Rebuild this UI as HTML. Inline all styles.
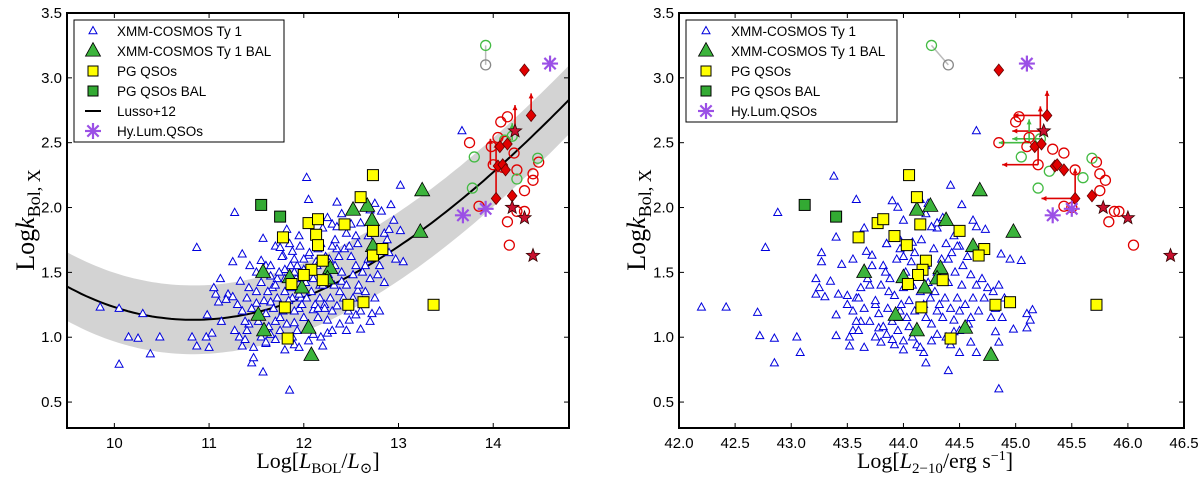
<!DOCTYPE html>
<html><head><meta charset="utf-8">
<style>
html,body{margin:0;padding:0;background:#fff;}
svg{display:block;}
text{font-family:"Liberation Sans","DejaVu Sans",sans-serif;}
.serif{font-family:"Liberation Serif","DejaVu Serif",serif;}
</style></head>
<body>
<svg id="chart" width="1200" height="478" viewBox="0 0 1200 478" xmlns="http://www.w3.org/2000/svg">
<g id="left"></g>
<g id="right"></g>
</svg>
<script>
// ---------- DATA ----------
const leftXTicks = [10, 11, 12, 13, 14];
const rightXTicks = [42.0, 42.5, 43.0, 43.5, 44.0, 44.5, 45.0, 45.5, 46.0, 46.5];
const yTicks = [0.5, 1.0, 1.5, 2.0, 2.5, 3.0, 3.5];

const leftBlueX = [9.85,10.05,10.3,10.15,10.25,10.48,10.05,10.38,10.87,10.82,10.87,10.97,11.0,11.03,10.98,11.07,11.05,11.12,11.1,11.13,11.2,11.18,11.25,11.27,11.25,11.33,11.35,11.27,11.32,11.35,11.38,11.43,11.45,11.47,11.42,11.5,11.5,11.55,11.57,11.6,11.57,11.47,11.6,11.65,11.67,11.65,11.7,11.72,11.75,11.78,11.8,11.82,11.85,11.85,11.88,11.88,11.9,11.9,11.93,11.95,11.97,12.0,12.03,12.05,12.05,12.1,12.13,12.15,12.17,12.2,12.22,12.25,12.27,12.3,12.33,12.35,12.35,12.38,12.4,12.45,12.45,12.48,12.5,12.52,12.55,12.57,12.6,12.62,12.65,12.68,12.7,12.72,12.75,12.78,12.8,12.82,12.85,12.88,12.9,12.92,12.95,12.97,13.02,13.02,13.05,13.67,
11.4,11.45,11.5,11.52,11.55,11.58,11.6,11.62,11.63,11.65,11.68,11.7,11.7,11.72,11.74,11.75,11.77,11.78,11.8,11.8,11.82,11.84,11.86,11.87,11.9,11.9,11.92,11.93,11.95,11.96,11.98,12.0,12.0,12.02,12.03,12.05,12.06,12.08,12.1,12.1,12.12,12.14,12.15,12.17,12.18,12.2,12.22,12.23,12.25,12.26,12.28,12.3,12.3,12.32,12.33,12.35,12.37,12.38,12.4,12.42,12.43,12.45,12.47,12.5,12.52,12.55,12.57,12.58,12.6,12.62,12.65,12.68,12.7,12.75,12.8,12.85,12.9,11.35,11.38,11.4,11.42,11.3,11.55,11.6,11.7,11.8,11.95,12.05,12.18,12.3,12.2,12.25,12.4,12.1,11.95,11.85,12.55,12.6,12.7,12.48,12.35,11.88,11.75,11.65,11.9,12.0,12.15];
const leftBlueY = [1.23,1.22,1.18,1.0,0.99,1.0,0.79,0.87,1.69,1.0,0.93,1.0,0.92,1.03,1.17,1.33,1.38,1.45,1.27,1.12,1.33,1.29,1.31,1.96,1.58,1.43,1.64,1.05,1.0,0.93,0.98,1.55,0.8,0.84,1.1,1.26,1.5,1.59,1.76,1.55,0.73,0.92,0.95,1.47,1.38,1.27,1.7,1.45,1.69,1.63,1.52,1.83,0.59,1.47,1.66,1.3,0.94,1.11,1.55,1.22,1.3,1.38,2.23,2.06,1.63,1.21,1.58,1.68,1.4,0.93,1.25,1.03,1.6,1.87,1.75,2.04,1.68,1.35,1.43,1.05,1.8,1.13,1.87,1.48,1.17,1.36,1.06,1.28,1.55,1.78,1.12,1.18,2.03,1.48,1.2,1.97,1.8,1.75,1.83,2.02,1.9,1.6,2.17,1.82,1.58,2.59,
1.3,1.22,1.35,1.12,1.42,1.28,1.18,1.35,1.08,1.55,1.22,1.4,1.12,1.3,1.5,1.05,1.62,1.2,1.35,1.45,1.1,1.28,1.55,1.38,1.2,1.6,1.45,1.05,1.33,1.7,1.25,1.15,1.52,1.42,1.3,1.1,1.65,1.35,1.45,1.02,1.25,1.55,1.15,1.3,1.72,1.4,1.22,1.62,1.13,1.48,1.3,1.7,1.2,1.4,1.55,1.24,1.62,1.1,1.5,1.3,1.68,1.4,1.2,1.62,1.3,1.55,1.72,1.4,1.2,1.5,1.35,1.6,1.45,1.3,1.55,1.42,1.65,1.2,1.12,1.05,1.38,1.25,1.0,0.96,0.98,0.9,0.92,0.97,1.0,1.05,1.84,1.92,1.95,1.9,1.78,1.72,1.78,1.88,1.98,1.7,1.85,1.0,1.15,1.02,1.5,1.6,1.22];

const rightBlueX = [42.2,42.42,42.7,42.72,42.85,42.85,42.88,42.77,43.05,43.08,43.22,43.22,43.25,43.27,43.27,43.3,43.35,43.38,43.4,43.4,43.4,43.42,43.45,43.5,43.52,43.52,43.55,43.58,43.55,43.58,43.62,43.65,43.65,43.67,43.7,43.72,43.75,43.78,43.82,43.85,43.87,43.9,43.92,43.95,43.97,44.0,44.05,44.08,44.12,44.15,44.18,44.2,44.22,44.3,44.4,44.42,44.42,44.45,44.5,44.52,44.6,44.62,44.65,44.65,44.73,44.82,44.85,44.85,44.87,44.95,45.05,44.98,45.1,45.15,45.1,45.13,44.65,
43.6,43.65,43.68,43.7,43.72,43.75,43.78,43.8,43.82,43.84,43.86,43.88,43.9,43.92,43.94,43.95,43.97,43.98,44.0,44.02,44.03,44.05,44.07,44.08,44.1,44.1,44.12,44.13,44.15,44.16,44.18,44.2,44.2,44.22,44.24,44.25,44.27,44.28,44.3,44.3,44.32,44.34,44.35,44.37,44.38,44.4,44.42,44.43,44.45,44.46,44.48,44.5,44.5,44.52,44.53,44.55,44.57,44.58,44.6,44.62,44.63,44.65,44.67,44.7,44.72,44.75,44.78,44.8,44.82,44.85,44.88,44.9,43.55,43.58,43.6,43.62,43.5,43.75,43.8,43.9,44.0,44.15,44.25,44.38,44.5,44.3,44.35,44.2,44.0,43.95,43.85,44.45,44.3,44.1,44.48,44.25,44.08,43.95,43.85,44.0,44.4,44.6];
const rightBlueY = [1.23,1.23,1.19,1.01,0.99,0.8,1.96,1.69,1.0,0.88,1.45,1.33,1.38,1.65,1.58,1.31,1.43,2.24,1.77,1.17,1.01,1.33,1.56,1.32,0.93,1.0,1.05,2.06,1.6,1.3,1.12,0.92,1.84,1.66,1.4,1.63,1.25,1.07,1.55,1.72,1.35,2.05,0.94,2.0,1.2,0.97,1.08,1.73,0.94,2.06,0.88,0.8,2.03,1.2,0.74,2.17,0.94,1.04,0.88,2.02,0.96,1.9,1.85,0.88,1.83,1.04,0.6,0.96,1.64,1.6,1.59,1.06,1.18,1.21,1.07,1.13,2.59,
1.3,1.22,1.45,1.12,1.55,1.28,1.18,1.4,1.08,1.5,1.22,1.45,1.12,1.32,1.6,1.05,1.68,1.25,1.38,1.5,1.15,1.28,1.58,1.4,1.2,1.65,1.48,1.05,1.35,1.75,1.25,1.15,1.55,1.42,1.3,1.1,1.68,1.35,1.5,1.02,1.25,1.6,1.15,1.3,1.72,1.42,1.22,1.65,1.13,1.5,1.3,1.7,1.2,1.4,1.55,1.25,1.62,1.1,1.48,1.3,1.68,1.4,1.2,1.45,1.3,1.38,1.15,1.35,1.22,1.4,1.15,1.3,1.2,1.12,1.05,1.38,1.25,1.0,0.96,0.98,0.9,0.92,0.97,1.0,1.05,1.84,1.92,1.95,1.9,1.78,1.72,1.78,1.88,1.98,1.7,1.85,1.0,1.15,1.02,1.62,1.6,1.15];

const leftBalX = [11.57,11.85,11.98,11.52,11.58,12.05,12.08,12.28,12.52,12.67,12.72,12.73,13.25,13.23,12.25];
const leftBalY = [1.5,1.46,1.38,1.17,1.05,1.07,0.86,1.53,1.98,2.01,1.9,1.7,2.13,1.81,1.45];
const rightBalX = [43.65,44.0,44.19,43.93,44.12,44.55,44.78,44.33,44.38,44.12,44.24,44.62,44.68,44.98,44.3];
const rightBalY = [1.5,1.46,1.38,1.17,1.05,1.07,0.86,1.53,1.9,1.98,2.01,1.7,2.13,1.81,1.45];

const leftPgX = [12.73,12.6,12.05,12.15,12.43,12.73,11.78,12.13,12.15,12.73,12.83,12.2,12.08,12.0,11.87,12.2,11.8,12.47,12.63,11.83,13.37];
const leftPgY = [2.25,2.08,1.88,1.91,1.87,1.82,1.77,1.79,1.71,1.63,1.68,1.59,1.52,1.48,1.41,1.44,1.23,1.25,1.27,0.99,1.25];
const rightPgX = [44.05,44.12,43.77,43.82,44.15,44.5,43.6,43.92,44.03,44.72,44.67,44.2,44.17,44.13,44.04,44.35,44.16,44.82,44.95,44.42,45.72];
const rightPgY = [2.25,2.08,1.88,1.91,1.87,1.82,1.77,1.78,1.71,1.68,1.63,1.59,1.52,1.48,1.41,1.44,1.23,1.25,1.27,0.99,1.25];

const leftPgBalX = [11.55,11.75];
const leftPgBalY = [2.02,1.93];
const rightPgBalX = [43.12,43.4];
const rightPgBalY = [2.02,1.93];

const leftRedCircX = [14.15,14.08,14.05,14.13,13.75,13.98,14.22,14.0,14.1,14.25,14.42,14.42,14.33,13.85,14.25,14.33,14.15,14.17,14.48];
const leftRedCircY = [2.7,2.66,2.54,2.51,2.5,2.47,2.42,2.33,2.31,2.29,2.26,2.21,2.13,2.01,1.97,1.97,1.89,1.71,2.35];
const rightRedCircX = [45.03,45.0,45.12,44.85,45.1,45.33,45.43,45.2,45.53,45.72,45.75,45.8,45.75,45.43,45.88,45.92,45.83,46.05,45.5];
const rightRedCircY = [2.7,2.66,2.54,2.5,2.47,2.45,2.42,2.33,2.29,2.35,2.26,2.21,2.13,2.01,1.97,1.97,1.89,1.71,2.0];

const leftGreenCircX = [13.92,14.12,14.2,13.8,13.78,14.25,14.47];
const leftGreenCircY = [3.25,2.52,2.55,2.39,2.15,2.22,2.38];
const rightGreenCircX = [44.25,45.05,45.3,45.22,45.2,45.6,45.68];
const rightGreenCircY = [3.25,2.39,2.28,2.53,2.15,2.23,2.38];

const leftGrayX = [13.92]; const leftGrayY = [3.1];
const rightGrayX = [44.4]; const rightGrayY = [3.1];

const leftDiaX = [14.33,14.4,14.07,14.15,14.05,14.1,14.13,14.03,14.2];
const leftDiaY = [3.06,2.71,2.47,2.49,2.32,2.33,2.29,2.07,2.09];
const rightDiaX = [44.85,45.28,45.17,45.23,45.35,45.43,45.53,45.68,45.37];
const rightDiaY = [3.06,2.71,2.47,2.49,2.32,2.29,2.07,2.09,2.33];

const leftStarX = [14.23,14.2,14.33,14.42];
const leftStarY = [2.59,2.0,1.92,1.63];
const rightStarX = [45.25,45.78,46.0,46.38];
const rightStarY = [2.59,2.0,1.92,1.63];

const leftHyX = [13.68,13.92,14.6];
const leftHyY = [1.94,1.99,3.11];
const rightHyX = [45.33,45.5,45.1];
const rightHyY = [1.94,1.99,3.11];

// Lusso+12 polynomial coefficients (x = log L - 12)
const lussoCoef = [1.308, 0.288, 0.111, -0.007];
const lussoBand = 0.265;

// ---------- DRAW ----------
const NS = 'http://www.w3.org/2000/svg';
function mk(parent, tag, attrs){ const e=document.createElementNS(NS,tag); for(const k in attrs) e.setAttribute(k,attrs[k]); parent.appendChild(e); return e; }

const PY0 = 13, PY1 = 428, YMIN = 0.3, YMAX = 3.5;
function ys(v){ return PY1 - (v - YMIN) * (PY1 - PY0) / (YMAX - YMIN); }
function makeX(x0, x1, vmin, vmax){ return v => x0 + (v - vmin) * (x1 - x0) / (vmax - vmin); }
const lxs = makeX(67, 569, 9.5, 14.8);
const rxs = makeX(679, 1184, 42.0, 46.5);

function tri(g, x, y, s, fill, stroke, sw, name){
  const h = s*0.9;
  const p = mk(g,'polygon',{points:`${x},${y-h*0.62} ${x-s/2},${y+h*0.38} ${x+s/2},${y+h*0.38}`, fill:fill, stroke:stroke, 'stroke-width':sw});
  
  
}
function sq(g, x, y, s, fill, name){
  const r = mk(g,'rect',{x:x-s/2,y:y-s/2,width:s,height:s,fill:fill,stroke:'#000','stroke-width':1});
  
  
}
function circ(g, x, y, r, stroke, name){
  const c = mk(g,'circle',{cx:x,cy:y,r:r,fill:'none',stroke:stroke,'stroke-width':1.3});
  
  
}
function dia(g, x, y, s, name){
  const p = mk(g,'polygon',{points:`${x},${y-s} ${x+s*0.8},${y} ${x},${y+s} ${x-s*0.8},${y}`, fill:'#e00000', stroke:'#600', 'stroke-width':0.8});
  
  
}
function star(g, x, y, r, name){
  let pts=[];
  for(let i=0;i<10;i++){ const a=-Math.PI/2+i*Math.PI/5; const rr=i%2?r*0.42:r; pts.push((x+rr*Math.cos(a)).toFixed(1)+','+(y+rr*Math.sin(a)).toFixed(1)); }
  const p = mk(g,'polygon',{points:pts.join(' '), fill:'#c8102e', stroke:'#300', 'stroke-width':0.8});
  
  
}
function aster(g, x, y, r, name){
  const gg = mk(g,'g',{stroke:'#9b50e6','stroke-width':2.2});
  
  
  for(let i=0;i<4;i++){ const a=i*Math.PI/4; mk(gg,'line',{x1:x-r*Math.cos(a),y1:y-r*Math.sin(a),x2:x+r*Math.cos(a),y2:y+r*Math.sin(a)}); }
}
function arrow(g, x1, y1, x2, y2, color, name){
  const gg = mk(g,'g',{stroke:color,'stroke-width':1.6,fill:color});
  
  
  mk(gg,'line',{x1:x1,y1:y1,x2:x2,y2:y2});
  const a=Math.atan2(y2-y1,x2-x1), s=5;
  mk(gg,'polygon',{points:`${x2},${y2} ${x2-s*Math.cos(a)+s*0.5*Math.sin(a)},${y2-s*Math.sin(a)-s*0.5*Math.cos(a)} ${x2-s*Math.cos(a)-s*0.5*Math.sin(a)},${y2-s*Math.sin(a)+s*0.5*Math.cos(a)}`,stroke:'none'});
}

function axes(g, xs, x0, x1, xt, xfmt){
  // frame
  const f = mk(g,'rect',{x:x0,y:PY0,width:x1-x0,height:PY1-PY0,fill:'none',stroke:'#000','stroke-width':2});
  
  
  xt.forEach(v=>{
    const X = xs(v);
    mk(g,'line',{x1:X,y1:PY1,x2:X,y2:PY1-5,stroke:'#000','stroke-width':1});
    mk(g,'line',{x1:X,y1:PY0,x2:X,y2:PY0+5,stroke:'#000','stroke-width':1});
    const t = mk(g,'text',{x:X,y:PY1+20,'text-anchor':'middle','font-size':15});
    t.textContent = xfmt(v);
    
    
  });
  yTicks.forEach(v=>{
    const Y = ys(v);
    mk(g,'line',{x1:x0,y1:Y,x2:x0+5,y2:Y,stroke:'#000','stroke-width':1});
    mk(g,'line',{x1:x1,y1:Y,x2:x1-5,y2:Y,stroke:'#000','stroke-width':1});
    const t = mk(g,'text',{x:x0-5,y:Y+5,'text-anchor':'end','font-size':15});
    t.textContent = v.toFixed(1);
    
    
  });
}

function panel(g, xs, x0, x1, d, isLeft){
  const clip = mk(g,'clipPath',{id:'clip'+(isLeft?'L':'R')});
  mk(clip,'rect',{x:x0,y:PY0,width:x1-x0,height:PY1-PY0});
  const pg = mk(g,'g',{'clip-path':`url(#clip${isLeft?'L':'R'})`});
  if(isLeft){
    let up=[], lo=[], mid=[];
    for(let v=9.5; v<=14.81; v+=0.05){
      const t=v-12; const k=lussoCoef[0]+lussoCoef[1]*t+lussoCoef[2]*t*t+lussoCoef[3]*t*t*t;
      up.push(xs(v).toFixed(1)+','+ys(k+lussoBand).toFixed(1));
      lo.unshift(xs(v).toFixed(1)+','+ys(k-lussoBand).toFixed(1));
      mid.push(xs(v).toFixed(1)+','+ys(k).toFixed(1));
    }
    const band = mk(pg,'polygon',{points:up.concat(lo).join(' '),fill:'#d3d3d3',stroke:'none'});
    
    
    const line = mk(pg,'polyline',{points:mid.join(' '),fill:'none',stroke:'#000','stroke-width':2});
    
    
  }
  d.blueX.forEach((v,i)=>tri(pg,xs(v),ys(d.blueY[i]),8,'#fff','#0000dd',1,'xmm-ty1-point'));
  d.balX.forEach((v,i)=>tri(pg,xs(v),ys(d.balY[i]),15,'#3cb43c','#000',0.8,'xmm-bal-point'));
  d.pgX.forEach((v,i)=>sq(pg,xs(v),ys(d.pgY[i]),11,'#ffff00','pg-qso-point'));
  d.pgBalX.forEach((v,i)=>sq(pg,xs(v),ys(d.pgBalY[i]),11,'#33aa33','pg-qso-bal-point'));
  // gray-green link
  const ln = mk(pg,'line',{x1:xs(d.grayX[0]),y1:ys(d.grayY[0]),x2:xs(d.greenX[0]),y2:ys(d.greenY[0]),stroke:'#bbb','stroke-width':1.5});
  
  
  d.arrows.forEach(a=>arrow(pg,xs(a[0]),ys(a[1]),xs(a[2]),ys(a[3]),a[4],'limit-arrow'));
  d.redX.forEach((v,i)=>circ(pg,xs(v),ys(d.redY[i]),5,'#e00000','red-circle-point'));
  d.greenX.forEach((v,i)=>circ(pg,xs(v),ys(d.greenY[i]),5,'#44bb44','green-circle-point'));
  d.grayX.forEach((v,i)=>circ(pg,xs(v),ys(d.grayY[i]),5,'#888','gray-circle-point'));
  d.diaX.forEach((v,i)=>dia(pg,xs(v),ys(d.diaY[i]),6,'red-diamond-point'));
  d.starX.forEach((v,i)=>star(pg,xs(v),ys(d.starY[i]),7,'star-point'));
  d.hyX.forEach((v,i)=>aster(pg,xs(v),ys(d.hyY[i]),8,'hylum-qso-point'));
}

function legend(g, bx, by, bw, bh, mx, tx, items){
  const lg = mk(g,'g',{});
  
  
  mk(lg,'rect',{x:bx,y:by,width:bw,height:bh,fill:'#fff',stroke:'#000','stroke-width':1});
  items.forEach((it,i)=>{
    const y = by+11+i*20;
    const eg = mk(lg,'g',{});
    
    
    if(it[0]==='tri') tri(eg,mx,y,8,'#fff','#0000dd',1,'legend-marker');
    if(it[0]==='bal') tri(eg,mx,y,15,'#3cb43c','#000',0.8,'legend-marker');
    if(it[0]==='pg') sq(eg,mx,y,10,'#ffff00','legend-marker');
    if(it[0]==='pgbal') sq(eg,mx,y,10,'#33aa33','legend-marker');
    if(it[0]==='line'){ const l=mk(eg,'line',{x1:mx-8,y1:y,x2:mx+8,y2:y,stroke:'#000','stroke-width':2});   }
    if(it[0]==='hy') aster(eg,mx,y,8,'legend-marker');
    const t = mk(eg,'text',{x:tx,y:y+5,'font-size':13.5});
    t.textContent = it[1];
  });
}

function titles(g, cx, y, isLeft, ytx){
  const t = mk(g,'text',{x:cx,y:y,'text-anchor':'middle','font-size':22,class:'serif'});
  
  
  if(isLeft){
    t.innerHTML = 'Log[<tspan font-style="italic">L</tspan><tspan font-size="15" dy="5">BOL</tspan><tspan dy="-5">/</tspan><tspan font-style="italic">L</tspan><tspan font-size="15" dy="5">⊙</tspan><tspan dy="-5">]</tspan>';
  } else {
    t.innerHTML = 'Log[<tspan font-style="italic">L</tspan><tspan font-size="15" dy="5">2−10</tspan><tspan dy="-5">/erg s</tspan><tspan font-size="14" dy="-8">−1</tspan><tspan dy="8">]</tspan>';
  }
  const yt = mk(g,'text',{x:0,y:0,'text-anchor':'middle','font-size':26,class:'serif',transform:`translate(${ytx},220) rotate(-90)`});
  
  
  yt.innerHTML = 'Log<tspan font-style="italic">k</tspan><tspan font-size="18" dy="6">Bol, X</tspan>';
}

const L = document.getElementById('left'), R = document.getElementById('right');
panel(L, lxs, 67, 569, {blueX:leftBlueX,blueY:leftBlueY,balX:leftBalX,balY:leftBalY,pgX:leftPgX,pgY:leftPgY,pgBalX:leftPgBalX,pgBalY:leftPgBalY,
  redX:leftRedCircX,redY:leftRedCircY,greenX:leftGreenCircX,greenY:leftGreenCircY,grayX:leftGrayX,grayY:leftGrayY,diaX:leftDiaX,diaY:leftDiaY,
  starX:leftStarX,starY:leftStarY,hyX:leftHyX,hyY:leftHyY,
  arrows:[[14.4,2.71,14.4,2.88,'#d00'],[14.23,2.59,14.23,2.79,'#d00'],[13.97,2.33,13.97,2.53,'#d00'],[14.03,2.07,14.03,2.5,'#d00'],[14.2,2.52,14.2,2.65,'#44bb44']]}, true);
axes(L, lxs, 67, 569, leftXTicks, v=>String(v));
legend(L, 74, 20, 210, 122, 93, 117, [['tri','XMM-COSMOS Ty 1'],['bal','XMM-COSMOS Ty 1 BAL'],['pg','PG QSOs'],['pgbal','PG QSOs BAL'],['line','Lusso+12'],['hy','Hy.Lum.QSOs']]);
titles(L, 318, 468, true, 34);

panel(R, rxs, 679, 1184, {blueX:rightBlueX,blueY:rightBlueY,balX:rightBalX,balY:rightBalY,pgX:rightPgX,pgY:rightPgY,pgBalX:rightPgBalX,pgBalY:rightPgBalY,
  redX:rightRedCircX,redY:rightRedCircY,greenX:rightGreenCircX,greenY:rightGreenCircY,grayX:rightGrayX,grayY:rightGrayY,diaX:rightDiaX,diaY:rightDiaY,
  starX:rightStarX,starY:rightStarY,hyX:rightHyX,hyY:rightHyY,
  arrows:[[45.28,2.71,44.98,2.71,'#d00'],[45.28,2.71,45.28,2.9,'#d00'],[45.25,2.59,44.97,2.59,'#d00'],[45.22,2.55,45.22,2.78,'#d00'],[45.22,2.53,44.97,2.53,'#44bb44'],[45.12,2.5,44.85,2.5,'#44bb44'],[45.12,2.5,45.12,2.68,'#44bb44'],[45.2,2.33,44.88,2.33,'#d00'],[45.2,2.33,45.2,2.5,'#d00'],[45.53,2.07,45.23,2.07,'#d00'],[45.53,2.07,45.53,2.3,'#d00']]}, false);
axes(R, rxs, 679, 1184, rightXTicks, v=>v.toFixed(1));
legend(R, 686, 20, 211, 102, 706, 731, [['tri','XMM-COSMOS Ty 1'],['bal','XMM-COSMOS Ty 1 BAL'],['pg','PG QSOs'],['pgbal','PG QSOs BAL'],['hy','Hy.Lum.QSOs']]);
titles(R, 935, 468, false, 645);
</script>
</body></html>
